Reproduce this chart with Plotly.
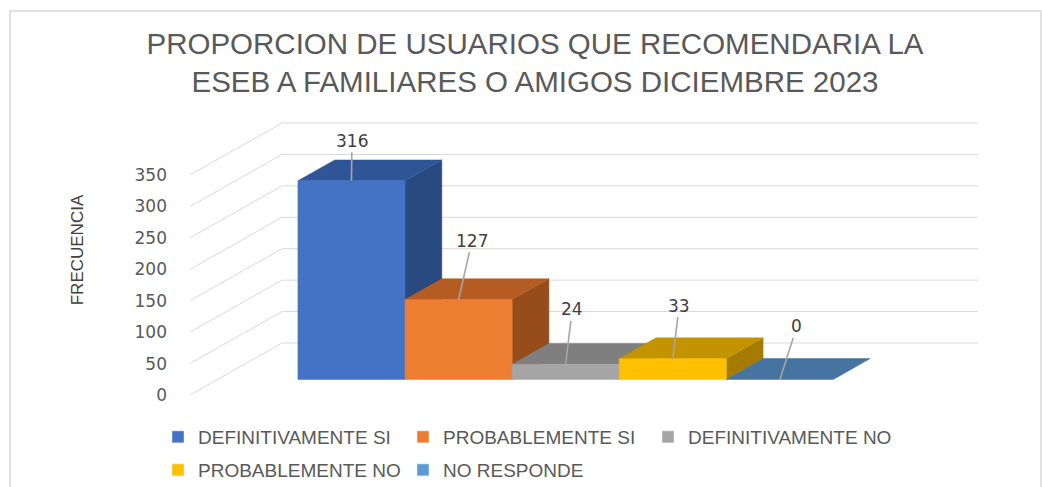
import plotly.graph_objects as go

# ---------------- data ----------------
categories = ["DEFINITIVAMENTE SI", "PROBABLEMENTE SI", "DEFINITIVAMENTE NO",
              "PROBABLEMENTE NO", "NO RESPONDE"]
values = [316, 127, 24, 33, 0]
tick_values = [0, 50, 100, 150, 200, 250, 300, 350]

# ---------------- styles ----------------
legend_colors = ["#4472C4", "#ED7D31", "#A5A5A5", "#FFC000", "#5B9BD5"]
front_colors = ["#4472C4", "#ED7D31", "#A5A5A5", "#FFC000", "#4A7BA8"]
top_colors = ["#2F5597", "#B45C22", "#7F7F7F", "#C39300", "#44749F"]
side_colors = ["#284A80", "#974C1C", "#6E6E6E", "#A67C00", "#3A6A95"]
label_offsets = [(0.5, -40), (13.5, -59), (6.5, -55), (6.5, -53), (17, -53)]

W, H = 1042, 487
PX_BAR = 107.1          # pixels per bar width
FLOOR_X0 = 190          # pixel x of the front-left floor corner
FLOOR_Y0 = 395          # pixel y of value 0 on the front floor edge
PX_VAL = 220 / 350      # pixels per value unit
DEPTH_PX = (92, -52)    # pixel shift from front to back of the floor
GAP = 0.75
BAR_D0, BAR_D1 = 0.3, 0.7
FLOOR_W = 2 * GAP + len(values)

L, R, T, B = 176, 1000, 100, 400
x_range = [(L - FLOOR_X0) / PX_BAR, (R - FLOOR_X0) / PX_BAR]
y_range = [(FLOOR_Y0 - B) / PX_VAL, (FLOOR_Y0 - T) / PX_VAL]
DXU = DEPTH_PX[0] / PX_BAR
DYU = -DEPTH_PX[1] / PX_VAL


def proj(x, v, d):
    return x + d * DXU, v + d * DYU


def poly(pts):
    xs, ys = [], []
    for (x, v, d) in pts:
        px, py = proj(x, v, d)
        xs.append(px)
        ys.append(py)
    xs.append(xs[0])
    ys.append(ys[0])
    return xs, ys


fig = go.Figure()

# gridlines (side wall diagonal + back wall)
gx, gy = [], []
for v in tick_values:
    for (x, d) in [(0, 0), (0, 1), (FLOOR_W, 1)]:
        px, py = proj(x, v, d)
        gx.append(px)
        gy.append(py)
    gx.append(None)
    gy.append(None)
fig.add_trace(go.Scatter(x=gx, y=gy, mode="lines",
                         line=dict(color="#D9D9D9", width=1),
                         hoverinfo="skip", showlegend=False))

# 3D bars
for i, v in enumerate(values):
    x0 = GAP + i
    x1 = x0 + 1
    faces = [
        ([(x1, 0, BAR_D0), (x1, 0, BAR_D1), (x1, v, BAR_D1), (x1, v, BAR_D0)], side_colors[i]),
        ([(x0, v, BAR_D0), (x1, v, BAR_D0), (x1, v, BAR_D1), (x0, v, BAR_D1)], top_colors[i]),
        ([(x0, 0, BAR_D0), (x1, 0, BAR_D0), (x1, v, BAR_D0), (x0, v, BAR_D0)], front_colors[i]),
    ]
    for pts, col in faces:
        if v == 0 and col != top_colors[i]:
            continue
        xs, ys = poly(pts)
        fig.add_trace(go.Scatter(x=xs, y=ys, mode="lines", fill="toself",
                                 fillcolor=col, line=dict(color=col, width=0.5),
                                 hoverinfo="skip", showlegend=False))

# legend entries
for i, name in enumerate(categories):
    fig.add_trace(go.Bar(x=[None], y=[None], name=name,
                         marker=dict(color=legend_colors[i]),
                         legend="legend" if i < 3 else "legend2"))

# data labels with leader lines
annotations = []
for i, v in enumerate(values):
    cx, cy = proj(GAP + i + 0.5, v, BAR_D0)
    annotations.append(dict(
        x=cx, y=cy, xref="x", yref="y", text=str(v),
        showarrow=True, arrowhead=0, arrowwidth=1.6, arrowcolor="#A6A6A6",
        ax=label_offsets[i][0], ay=label_offsets[i][1], standoff=0,
        font=dict(family="DejaVu Sans", size=17, color="#404040")))

legend_common = dict(orientation="h", xref="container", yref="container",
                     xanchor="left", yanchor="middle",
                     entrywidth=200, entrywidthmode="pixels",
                     font=dict(family="Liberation Sans", size=19, color="#595959"),
                     bgcolor="rgba(0,0,0,0)", itemclick=False)

fig.update_layout(
    width=W, height=H,
    margin=dict(l=L, r=W - R, t=T, b=H - B),
    paper_bgcolor="white", plot_bgcolor="rgba(0,0,0,0)",
    title=dict(text="PROPORCION DE USUARIOS QUE RECOMENDARIA LA<br>ESEB A FAMILIARES O AMIGOS DICIEMBRE 2023",
               x=535 / W, xanchor="center", xref="container",
               y=1 - 54 / H, yanchor="top", yref="container",
               font=dict(family="Liberation Sans", size=29.5, color="#595959")),
    xaxis=dict(range=x_range, visible=False, fixedrange=True),
    yaxis=dict(range=y_range, tickvals=tick_values, showgrid=False, zeroline=False,
               showline=False, ticks="", fixedrange=True, ticklabelstandoff=8,
               tickfont=dict(family="DejaVu Sans", size=17, color="#595959"),
               title=dict(text="FRECUENCIA", standoff=46,
                          font=dict(family="Liberation Sans", size=17, color="#404040"))),
    legend=dict(x=158 / W, y=1 - 437 / H, **legend_common),
    legend2=dict(x=158 / W, y=1 - 470 / H, **legend_common),
    annotations=annotations,
    shapes=[dict(type="rect", xref="paper", yref="paper",
                 x0=(10 - L) / (R - L), x1=(1041 - L) / (R - L),
                 y0=(B - 500) / (B - T), y1=(B - 11) / (B - T),
                 line=dict(color="#D9D9D9", width=1.5), fillcolor="rgba(0,0,0,0)",
                 layer="below")],
    showlegend=True,
)

fig.write_html("out.html")
